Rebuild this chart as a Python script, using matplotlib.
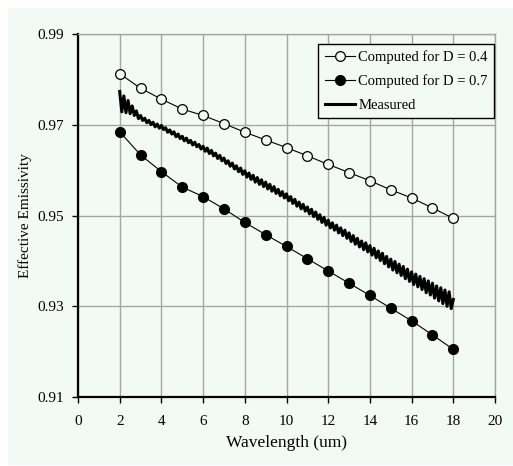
import matplotlib
matplotlib.use("Agg")
import matplotlib.pyplot as plt
from matplotlib.patches import Rectangle

plt.rcParams['font.family'] = ['Liberation Serif', 'DejaVu Serif']

# ---------------- data ----------------
wl_computed = [2, 3, 4, 5, 6, 7, 8, 9, 10, 11, 12, 13, 14, 15, 16, 17, 18]
emis_d04 = [0.9813, 0.9781, 0.9757, 0.9735, 0.9721, 0.9703, 0.9684, 0.9667,
            0.9650, 0.9632, 0.9613, 0.9595, 0.9577, 0.9557, 0.9539, 0.9517, 0.9494]
emis_d07 = [0.9685, 0.9634, 0.9597, 0.9563, 0.9542, 0.9515, 0.9485, 0.9458,
            0.9432, 0.9405, 0.9378, 0.9351, 0.9324, 0.9296, 0.9268, 0.9237, 0.9205]

wl_measured = [round(2.0 + 0.1 * i, 1) for i in range(161)]
emis_measured = [
    0.9774, 0.9729, 0.9764, 0.9727, 0.9754, 0.9725, 0.9742, 0.9721, 0.9731, 0.9714,
    0.9721, 0.9710, 0.9715, 0.9705, 0.9710, 0.9701, 0.9706, 0.9696, 0.9702, 0.9693,
    0.9699, 0.9690, 0.9694, 0.9684, 0.9689, 0.9680, 0.9685, 0.9674, 0.9680, 0.9670,
    0.9675, 0.9665, 0.9671, 0.9661, 0.9666, 0.9656, 0.9662, 0.9652, 0.9657, 0.9647,
    0.9653, 0.9642, 0.9649, 0.9637, 0.9644, 0.9632, 0.9638, 0.9626, 0.9633, 0.9621,
    0.9627, 0.9615, 0.9621, 0.9609, 0.9616, 0.9603, 0.9610, 0.9597, 0.9605, 0.9591,
    0.9599, 0.9585, 0.9594, 0.9580, 0.9589, 0.9574, 0.9584, 0.9569, 0.9579, 0.9564,
    0.9574, 0.9559, 0.9569, 0.9554, 0.9564, 0.9549, 0.9558, 0.9544, 0.9553, 0.9539,
    0.9548, 0.9533, 0.9542, 0.9527, 0.9536, 0.9521, 0.9530, 0.9515, 0.9525, 0.9510,
    0.9519, 0.9504, 0.9514, 0.9498, 0.9508, 0.9492, 0.9502, 0.9485, 0.9496, 0.9479,
    0.9490, 0.9473, 0.9484, 0.9468, 0.9479, 0.9462, 0.9473, 0.9456, 0.9468, 0.9450,
    0.9462, 0.9443, 0.9456, 0.9437, 0.9450, 0.9431, 0.9444, 0.9425, 0.9440, 0.9420,
    0.9434, 0.9413, 0.9428, 0.9407, 0.9422, 0.9401, 0.9417, 0.9394, 0.9410, 0.9387,
    0.9404, 0.9380, 0.9399, 0.9374, 0.9393, 0.9368, 0.9388, 0.9361, 0.9382, 0.9355,
    0.9376, 0.9348, 0.9371, 0.9343, 0.9366, 0.9337, 0.9361, 0.9330, 0.9356, 0.9325,
    0.9351, 0.9318, 0.9345, 0.9312, 0.9341, 0.9306, 0.9336, 0.9300, 0.9332, 0.9295,
    0.9315,
]

x_ticks = [0, 2, 4, 6, 8, 10, 12, 14, 16, 18, 20]
y_ticks = [0.91, 0.93, 0.95, 0.97, 0.99]
y_tick_labels = ["0.91", "0.93", "0.95", "0.97", "0.99"]

labels = ["Computed for D = 0.4", "Computed for D = 0.7", "Measured"]

# ---------------- figure ----------------
W, H = 513, 466
fig = plt.figure(figsize=(W / 100, H / 100), dpi=100, facecolor="white")
bg = "#F3FAF3"
fig.add_artist(Rectangle((8 / W, 1 / H), (W - 8) / W, (H - 9) / H,
                         transform=fig.transFigure, facecolor=bg,
                         edgecolor="none", zorder=-10))

ax = fig.add_axes([78 / W, 1 - 397 / H, 417 / W, (397 - 34.3) / H])
ax.set_zorder(1)
ax.set_facecolor(bg)

ax.plot(wl_computed, emis_d04, color="black", lw=0.8, marker="o", ms=7,
        mfc=bg, mec="black", mew=0.9, label=labels[0], zorder=4)
ax.plot(wl_computed, emis_d07, color="black", lw=0.8, marker="o", ms=7,
        mfc="black", mec="black", label=labels[1], zorder=4)
ax.plot(wl_measured, emis_measured, color="black", lw=2.2, label=labels[2],
        zorder=3)

ax.set_xlim(0, 20)
ax.set_ylim(0.91, 0.99)
ax.set_xticks(x_ticks)
ax.set_xticklabels([str(t) for t in x_ticks])
ax.set_yticks(y_ticks)
ax.set_yticklabels(y_tick_labels)

ax.grid(True, color="#A3A8A3", lw=1.0, zorder=1)
ax.set_axisbelow(True)

for s in ["top", "right"]:
    ax.spines[s].set_color("#A3A8A3")
    ax.spines[s].set_linewidth(1.0)
for s in ["left", "bottom"]:
    ax.spines[s].set_color("black")
    ax.spines[s].set_linewidth(1.6)

ax.tick_params(axis="both", direction="out", length=4, width=1, color="black",
               labelsize=11, labelcolor="black")
ax.tick_params(axis="x", pad=9)
ax.tick_params(axis="y", pad=6)

ax.set_xlabel("Wavelength (um)", fontsize=12.5, labelpad=5)
ax.set_ylabel("Effective Emissivity", fontsize=11, labelpad=4)

leg = ax.legend(loc="upper right", bbox_to_anchor=(0.998, 0.973),
                borderaxespad=0, fontsize=10.5, frameon=True, fancybox=False,
                framealpha=1, facecolor=bg, edgecolor="black",
                handlelength=2.1, handletextpad=0.2, labelspacing=0.7,
                borderpad=0.45)
leg.get_frame().set_linewidth(1.0)

fig.savefig("out.png", dpi=100, facecolor="white")
